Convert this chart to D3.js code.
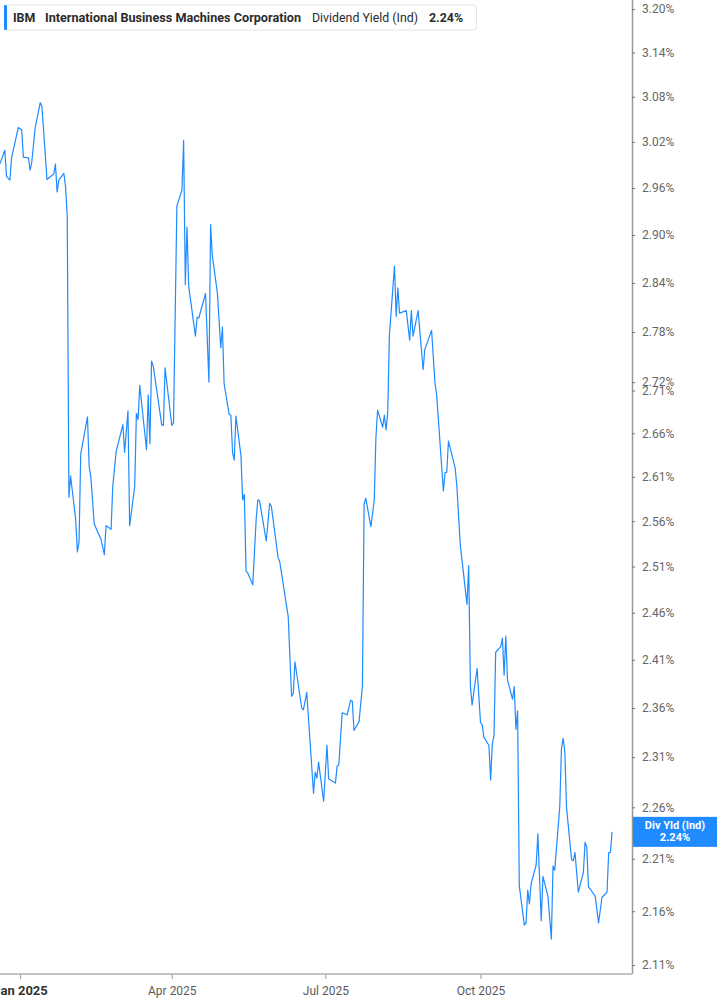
<!DOCTYPE html>
<html><head><meta charset="utf-8">
<script src="https://cdn.jsdelivr.net/npm/d3@7"></script>
<style>
html,body{margin:0;padding:0;background:#fff;}
svg{display:block;font-family:Roboto,"Noto Sans",sans-serif;}
</style></head>
<body>
<svg id="chart" width="717" height="1005"></svg>
<script>
const dates = ["2024-12-20","2024-12-23","2024-12-24","2024-12-26","2024-12-27","2024-12-31","2025-01-02","2025-01-03","2025-01-06","2025-01-07","2025-01-08","2025-01-10","2025-01-13","2025-01-14","2025-01-17","2025-01-21","2025-01-22","2025-01-23","2025-01-24","2025-01-27","2025-01-28","2025-01-29","2025-01-30","2025-01-31","2025-02-03","2025-02-04","2025-02-05","2025-02-06","2025-02-10","2025-02-11","2025-02-12","2025-02-14","2025-02-18","2025-02-20","2025-02-21","2025-02-24","2025-02-25","2025-02-27","2025-03-03","2025-03-04","2025-03-06","2025-03-07","2025-03-10","2025-03-11","2025-03-12","2025-03-13","2025-03-17","2025-03-18","2025-03-19","2025-03-20","2025-03-21","2025-03-26","2025-03-27","2025-03-28","2025-04-01","2025-04-02","2025-04-04","2025-04-07","2025-04-08","2025-04-09","2025-04-10","2025-04-11","2025-04-15","2025-04-16","2025-04-17","2025-04-21","2025-04-23","2025-04-24","2025-04-25","2025-04-28","2025-04-30","2025-05-01","2025-05-02","2025-05-05","2025-05-06","2025-05-07","2025-05-08","2025-05-09","2025-05-12","2025-05-13","2025-05-14","2025-05-15","2025-05-16","2025-05-19","2025-05-21","2025-05-22","2025-05-23","2025-05-27","2025-05-29","2025-05-30","2025-06-03","2025-06-04","2025-06-09","2025-06-11","2025-06-12","2025-06-13","2025-06-17","2025-06-18","2025-06-20","2025-06-24","2025-06-25","2025-06-26","2025-06-27","2025-06-30","2025-07-02","2025-07-03","2025-07-07","2025-07-08","2025-07-09","2025-07-11","2025-07-14","2025-07-16","2025-07-17","2025-07-18","2025-07-21","2025-07-23","2025-07-24","2025-07-25","2025-07-28","2025-07-30","2025-07-31","2025-08-01","2025-08-04","2025-08-05","2025-08-06","2025-08-07","2025-08-08","2025-08-11","2025-08-12","2025-08-13","2025-08-14","2025-08-18","2025-08-20","2025-08-21","2025-08-22","2025-08-25","2025-08-28","2025-08-29","2025-09-02","2025-09-04","2025-09-05","2025-09-09","2025-09-10","2025-09-11","2025-09-12","2025-09-16","2025-09-17","2025-09-19","2025-09-23","2025-09-24","2025-09-25","2025-09-26","2025-09-29","2025-10-01","2025-10-02","2025-10-03","2025-10-06","2025-10-07","2025-10-08","2025-10-09","2025-10-10","2025-10-13","2025-10-14","2025-10-15","2025-10-16","2025-10-17","2025-10-20","2025-10-21","2025-10-22","2025-10-23","2025-10-24","2025-10-27","2025-10-28","2025-10-29","2025-10-30","2025-10-31","2025-11-03","2025-11-04","2025-11-06","2025-11-07","2025-11-10","2025-11-12","2025-11-13","2025-11-14","2025-11-17","2025-11-18","2025-11-19","2025-11-20","2025-11-21","2025-11-24","2025-11-25","2025-11-26","2025-11-28","2025-12-01","2025-12-02","2025-12-03","2025-12-04","2025-12-05","2025-12-08","2025-12-10","2025-12-12","2025-12-15","2025-12-16","2025-12-17","2025-12-18"];

const yields = [2.991,3.009,2.975,2.970,2.999,3.039,3.036,3.000,2.999,2.983,2.994,3.039,3.072,3.067,2.971,2.978,2.991,2.955,2.970,2.979,2.962,2.924,2.587,2.611,2.562,2.526,2.537,2.636,2.679,2.622,2.610,2.557,2.540,2.523,2.555,2.551,2.599,2.639,2.670,2.638,2.686,2.555,2.599,2.683,2.676,2.716,2.641,2.705,2.648,2.745,2.739,2.670,2.669,2.737,2.669,2.672,2.937,2.957,3.022,2.838,2.910,2.836,2.775,2.798,2.797,2.827,2.720,2.913,2.874,2.828,2.761,2.786,2.718,2.682,2.681,2.638,2.629,2.680,2.634,2.584,2.590,2.505,2.503,2.490,2.562,2.584,2.583,2.538,2.580,2.577,2.520,2.515,2.456,2.372,2.375,2.408,2.360,2.358,2.376,2.274,2.295,2.289,2.305,2.266,2.322,2.288,2.284,2.301,2.302,2.355,2.353,2.368,2.367,2.337,2.346,2.383,2.579,2.586,2.554,2.583,2.655,2.687,2.667,2.681,2.664,2.684,2.776,2.861,2.799,2.834,2.803,2.806,2.770,2.806,2.775,2.806,2.735,2.759,2.782,2.719,2.705,2.594,2.615,2.615,2.651,2.620,2.599,2.534,2.469,2.511,2.383,2.363,2.401,2.345,2.343,2.330,2.322,2.287,2.323,2.332,2.418,2.424,2.433,2.394,2.435,2.389,2.369,2.382,2.338,2.357,2.184,2.147,2.149,2.180,2.167,2.186,2.204,2.234,2.151,2.193,2.174,2.134,2.203,2.199,2.261,2.319,2.329,2.315,2.260,2.209,2.208,2.216,2.178,2.197,2.226,2.221,2.183,2.181,2.174,2.149,2.173,2.178,2.216,2.216,2.236];

const yTicks = [3.20,3.14,3.08,3.02,2.96,2.90,2.84,2.78,2.72,2.71,2.66,2.61,2.56,2.51,2.46,2.41,2.36,2.31,2.26,2.21,2.16,2.11];
const xTicks = ["2025-01-01","2025-04-01","2025-07-01","2025-10-01"];
const xTickLabels = ["Jan 2025","Apr 2025","Jul 2025","Oct 2025"];

const ticker = "IBM";
const company = "International Business Machines Corporation";
const metric = "Dividend Yield (Ind)";
const lastLabel = "Div Yld (Ind)";
const lastValue = yields[yields.length-1];

const parse = d3.utcParse("%Y-%m-%d");
const data = dates.map((d,i)=>({date:parse(d), v:yields[i]}));

const svg = d3.select("#chart");
const plotRight = 632, plotBottom = 974;

const x = d3.scaleUtc().domain([parse("2025-01-01"), parse("2025-10-01")]).range([20, 480.5]);
const y = d3.scaleLog().domain([2.11, 3.20]).range([965, 9]);

// clip
svg.append("clipPath").attr("id","clip").append("rect")
  .attr("x",0).attr("y",0).attr("width",plotRight).attr("height",plotBottom);

// line
svg.append("path")
  .datum(data)
  .attr("clip-path","url(#clip)")
  .attr("fill","none")
  .attr("stroke","#1f8bff")
  .attr("stroke-width",1.2)
  .attr("stroke-linejoin","round")
  .attr("d", d3.line().x(d=>x(d.date)).y(d=>y(d.v)));

// right axis
const yAxis = d3.axisRight(y).tickValues(yTicks).tickSize(3).tickPadding(7)
  .tickFormat(d=>d3.format(".2f")(d)+"%");
const ya = svg.append("g").attr("transform",`translate(${plotRight},0)`).call(yAxis);
ya.select(".domain").attr("d",`M0.5,0V${plotBottom}`).attr("stroke","#9a9a9a").attr("stroke-width",1.5);
ya.selectAll(".tick line").attr("stroke","#777");
ya.selectAll(".tick text").attr("fill","#666").attr("font-size","12px").attr("font-family","Roboto");

// bottom axis
const xAxis = d3.axisBottom(x).tickValues(xTicks.map(parse)).tickSize(5).tickPadding(7)
  .tickFormat((d,i)=>xTickLabels[i]);
const xa = svg.append("g").attr("transform",`translate(0,${plotBottom})`).call(xAxis);
xa.select(".domain").attr("d",`M0,0H${plotRight}`).attr("stroke","#c4c4c4").attr("stroke-width",2);
xa.selectAll(".tick line").attr("stroke","#aaa").attr("stroke-width",1.2);
xa.selectAll(".tick text").attr("font-family","Roboto")
  .attr("font-weight",(d,i)=>i===0?"bold":"normal")
  .attr("fill",(d,i)=>i===0?"#333":"#5a5a5a")
  .attr("font-size",(d,i)=>i===0?"13px":"12px");

// last value label
const ly = y(lastValue);
const lab = svg.append("g");
lab.append("rect").attr("x",plotRight+1).attr("y",ly-15).attr("width",717-plotRight-1).attr("height",30).attr("fill","#1f8bff");
lab.append("text").attr("x",675).attr("y",ly-3).attr("text-anchor","middle").attr("fill","#fff")
  .attr("font-size","11px").attr("font-weight","bold").text(lastLabel);
lab.append("text").attr("x",675).attr("y",ly+9).attr("text-anchor","middle").attr("fill","#fff")
  .attr("font-size","11px").attr("font-weight","bold").text(d3.format(".2f")(lastValue)+"%");

// header box
const hdr = svg.append("g");
hdr.append("rect").attr("x",4.5).attr("y",5).attr("width",472).attr("height",25).attr("rx",3)
  .attr("fill","#fff").attr("stroke","#e4e4e4");
hdr.append("rect").attr("x",4).attr("y",5).attr("width",3).attr("height",25).attr("rx",1).attr("fill","#1f8bff");
const hs = 12.4;
hdr.append("text").attr("x",13).attr("y",21.5).attr("font-size",hs+"px").attr("fill","#2b2b2b")
  .attr("font-weight","bold").text(ticker);
hdr.append("text").attr("x",45).attr("y",21.5).attr("font-size",hs+"px").attr("fill","#2b2b2b")
  .attr("font-weight","bold").attr("textLength",256).attr("lengthAdjust","spacingAndGlyphs").text(company);
hdr.append("text").attr("x",312).attr("y",21.5).attr("font-size",hs+"px").attr("fill","#2b2b2b")
  .attr("textLength",106).attr("lengthAdjust","spacingAndGlyphs").text(metric);
hdr.append("text").attr("x",429).attr("y",21.5).attr("font-size",hs+"px").attr("fill","#2b2b2b")
  .attr("font-weight","bold").text(d3.format(".2f")(lastValue)+"%");
</script>
</body></html>
